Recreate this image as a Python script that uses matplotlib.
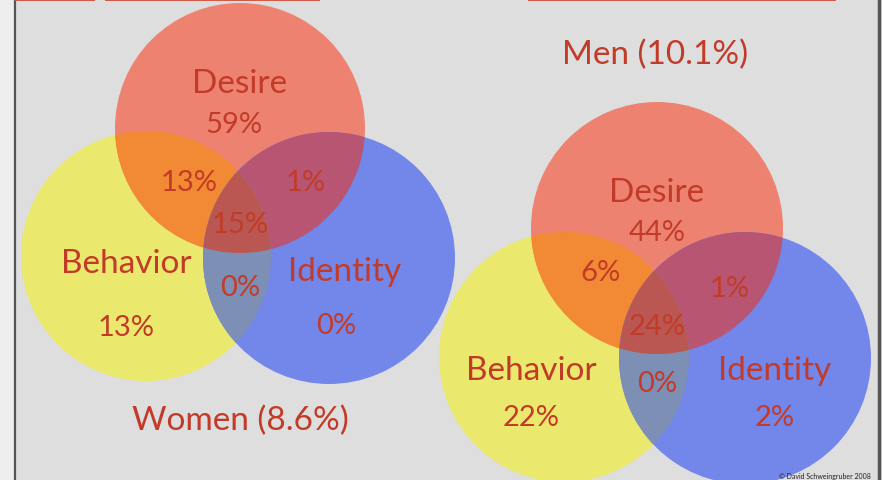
import numpy as np
import matplotlib
matplotlib.use("Agg")
import matplotlib.pyplot as plt
from matplotlib.patches import Circle, Polygon, Rectangle

# ---- data ----
groups = ["Women (8.6%)", "Men (10.1%)"]
set_names = ["Desire", "Behavior", "Identity"]
# only-region percentages: Desire, Behavior, Identity
women_only = ["59%", "13%", "0%"]
men_only = ["44%", "22%", "2%"]
# overlaps: Desire&Behavior, Desire&Identity, Behavior&Identity, all three
women_overlap = ["13%", "1%", "0%", "15%"]
men_overlap = ["6%", "1%", "0%", "24%"]

# ---- style ----
BG = "#DEDEDE"
C_R, C_Y, C_B = "#EE8270", "#EBE86E", "#7387EB"
C_RY, C_RB, C_YB, C_RYB = "#F28934", "#B75573", "#7D8FB4", "#BA5752"
TXT = "#C23B28"
FONT = ["Lato", "DejaVu Sans"]
DY = 4  # text vertical nudge

W, H = 882, 481
fig = plt.figure(figsize=(W / 100, H / 100), dpi=100)
fig.patch.set_facecolor(BG)
ax = fig.add_axes([0, 0, 1, 1])
ax.set_xlim(0, W)
ax.set_ylim(H, 0)
ax.set_aspect("equal")
ax.axis("off")
ax.set_facecolor(BG)

# frame edges
ax.add_patch(Rectangle((0, 0), 14, H, color="#EEEEEE", zorder=0))
ax.plot([14.5, 14.5], [0, H], color="#555555", lw=1.6, zorder=1)
ax.plot([879.5, 879.5], [0, H], color="#555555", lw=2.5, zorder=1)
# torn red strip at top
for x0, x1 in [(15, 95), (105, 320), (528, 836)]:
    ax.add_patch(Rectangle((x0, 0), x1 - x0, 2.4, color="#D45A48", lw=0, zorder=1))


def lens(c1, c2, n=1440):
    """convex polygon approximating intersection of two circles"""
    (x1, y1, r1), (x2, y2, r2) = c1, c2
    t = np.linspace(0, 2 * np.pi, n, endpoint=False)
    p1 = np.c_[x1 + r1 * np.cos(t), y1 + r1 * np.sin(t)]
    p2 = np.c_[x2 + r2 * np.cos(t), y2 + r2 * np.sin(t)]
    k1 = p1[np.hypot(p1[:, 0] - x2, p1[:, 1] - y2) <= r2]
    k2 = p2[np.hypot(p2[:, 0] - x1, p2[:, 1] - y1) <= r1]
    pts = np.vstack([k1, k2])
    c = pts.mean(axis=0)
    ang = np.arctan2(pts[:, 1] - c[1], pts[:, 0] - c[0])
    return pts[np.argsort(ang)]


def txt(x, y, s, size):
    ax.text(x, y + DY, s, fontsize=size, color=TXT, ha="center", va="center",
            family=FONT, zorder=6)


def venn(circles, only, overlap, title, title_pos, label_pos, only_pos, ov_pos):
    R, Y, B = circles
    for (x, y, r), col in [(Y, C_Y), (R, C_R), (B, C_B)]:
        ax.add_patch(Circle((x, y), r, color=col, lw=0, zorder=2))
    for (a, b), col in [((R, Y), C_RY), ((R, B), C_RB), ((Y, B), C_YB)]:
        ax.add_patch(Polygon(lens(a, b), closed=True, color=col, lw=0, zorder=3))
    tri = Polygon(lens(R, Y), closed=True, color=C_RYB, lw=0, zorder=4)
    ax.add_patch(tri)
    clip = Circle((B[0], B[1]), B[2], transform=ax.transData, visible=False)
    ax.add_patch(clip)
    tri.set_clip_path(clip)
    for name, (x, y) in zip(set_names, label_pos):
        txt(x, y, name, 24)
    for v, (x, y) in zip(only, only_pos):
        txt(x, y, v, 21)
    for v, (x, y) in zip(overlap, ov_pos):
        txt(x, y, v, 21)
    txt(title_pos[0], title_pos[1], title, 24)


venn(
    [(240, 129, 125), (146, 257, 125), (329, 259, 126)],
    women_only, women_overlap, groups[0], (240, 417),
    [(240, 80), (126, 260), (345, 268)],
    [(234, 121), (126, 324), (336, 322)],
    [(189, 179), (306, 179), (240, 284), (240, 221)],
)
venn(
    [(657, 229, 126), (564, 358, 125), (745, 359, 126)],
    men_only, men_overlap, groups[1], (655, 51),
    [(657, 189), (531, 367), (775, 367)],
    [(657, 229), (531, 414), (775, 414)],
    [(601, 269), (730, 285), (657, 380), (657, 323)],
)

ax.text(871, 477, "\u00a9 David Schweingruber 2008", fontsize=5.0, color="#222222",
        ha="right", va="center", family=FONT, zorder=7)

fig.savefig("out.png", dpi=100, facecolor=BG)
